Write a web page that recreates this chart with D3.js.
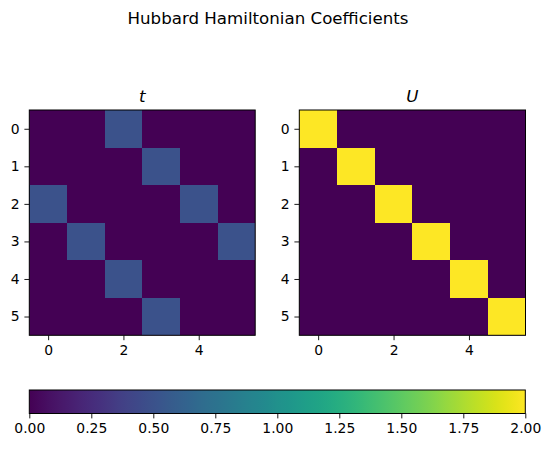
<!DOCTYPE html>
<html><head><meta charset="utf-8">
<script src="https://cdn.jsdelivr.net/npm/d3@7"></script>
<style>body{margin:0;background:#fff}svg text{font-family:"DejaVu Sans",sans-serif;fill:#000}</style>
</head><body>
<svg id="c" width="549" height="449"></svg>
<script>
const suptitle = "Hubbard Hamiltonian Coefficients";
const panelTitles = ["t", "U"];
const rows = [0, 1, 2, 3, 4, 5];
const cols = [0, 1, 2, 3, 4, 5];
const tMatrix = [
  [0, 0, 0.5, 0, 0, 0],
  [0, 0, 0, 0.5, 0, 0],
  [0.5, 0, 0, 0, 0.5, 0],
  [0, 0.5, 0, 0, 0, 0.5],
  [0, 0, 0.5, 0, 0, 0],
  [0, 0, 0, 0.5, 0, 0]
];
const uMatrix = [
  [2, 0, 0, 0, 0, 0],
  [0, 2, 0, 0, 0, 0],
  [0, 0, 2, 0, 0, 0],
  [0, 0, 0, 2, 0, 0],
  [0, 0, 0, 0, 2, 0],
  [0, 0, 0, 0, 0, 2]
];
const xTicks = [0, 2, 4];
const yTicks = [0, 1, 2, 3, 4, 5];
const cbarTicks = [0, 0.25, 0.5, 0.75, 1.0, 1.25, 1.5, 1.75, 2.0];
const vmin = 0, vmax = 2;

const svg = d3.select("#c");
const color = d3.scaleSequential(d3.interpolateViridis).domain([vmin, vmax]);
const fs = 13.9;

svg.append("text").attr("x", 268).attr("y", 24).attr("text-anchor", "middle")
  .style("font-size", "16.67px").text(suptitle);

const panels = [
  {m: tMatrix, x0: 29.3, x1: 255.2, title: panelTitles[0]},
  {m: uMatrix, x0: 299.3, x1: 525.5, title: panelTitles[1]}
];
const y0 = 110, y1 = 335.3;

panels.forEach(p => {
  const x = d3.scaleLinear().domain([-0.5, 5.5]).range([p.x0, p.x1]);
  const y = d3.scaleLinear().domain([-0.5, 5.5]).range([y0, y1]);
  const g = svg.append("g");
  const cells = [];
  rows.forEach(r => cols.forEach(c => cells.push({r, c, v: p.m[r][c]})));
  g.append("rect").attr("x", p.x0).attr("y", y0).attr("width", p.x1 - p.x0).attr("height", y1 - y0)
    .attr("fill", color(vmin));
  g.selectAll("rect.cell").data(cells.filter(d => d.v !== vmin)).join("rect")
    .attr("shape-rendering", "crispEdges")
    .attr("x", d => x(d.c - 0.5)).attr("y", d => y(d.r - 0.5))
    .attr("width", d => x(d.c + 0.5) - x(d.c - 0.5))
    .attr("height", d => y(d.r + 0.5) - y(d.r - 0.5))
    .attr("fill", d => color(d.v));
  g.append("rect").attr("x", p.x0).attr("y", y0).attr("width", p.x1 - p.x0).attr("height", y1 - y0)
    .attr("fill", "none").attr("stroke", "#000").attr("stroke-width", 1);
  const xa = g.append("g").attr("transform", `translate(0,${y1})`)
    .call(d3.axisBottom(x).tickValues(xTicks).tickFormat(d3.format("d")).tickSize(4.9).tickPadding(4.9));
  const ya = g.append("g").attr("transform", `translate(${p.x0},0)`)
    .call(d3.axisLeft(y).tickValues(yTicks).tickFormat(d3.format("d")).tickSize(4.9).tickPadding(4.9));
  [xa, ya].forEach(a => {
    a.select(".domain").remove();
    a.selectAll("text").style("font-size", fs + "px").attr("font-family", "DejaVu Sans");
    a.selectAll("line").attr("stroke", "#000").attr("stroke-width", 0.9);
  });
  g.append("text").attr("x", (p.x0 + p.x1) / 2).attr("y", 102).attr("text-anchor", "middle")
    .style("font-size", "16.67px").style("font-style", "italic").text(p.title);
});

// colorbar
const cb = {x0: 29.3, x1: 525.3, y0: 390, y1: 413.5};
const defs = svg.append("defs");
const grad = defs.append("linearGradient").attr("id", "vg").attr("x1", "0%").attr("x2", "100%");
d3.range(0, 1.0001, 0.02).forEach(t => grad.append("stop").attr("offset", (t * 100) + "%").attr("stop-color", d3.interpolateViridis(t)));
svg.append("rect").attr("x", cb.x0).attr("y", cb.y0).attr("width", cb.x1 - cb.x0).attr("height", cb.y1 - cb.y0)
  .attr("fill", "url(#vg)").attr("stroke", "#000").attr("stroke-width", 1);
const cx = d3.scaleLinear().domain([vmin, vmax]).range([cb.x0, cb.x1]);
const ca = svg.append("g").attr("transform", `translate(0,${cb.y1})`)
  .call(d3.axisBottom(cx).tickValues(cbarTicks).tickFormat(d3.format(".2f")).tickSize(4.9).tickPadding(4.9));
ca.select(".domain").remove();
ca.selectAll("text").style("font-size", fs + "px").attr("font-family", "DejaVu Sans");
ca.selectAll("line").attr("stroke", "#000").attr("stroke-width", 0.9);
</script>
</body></html>
